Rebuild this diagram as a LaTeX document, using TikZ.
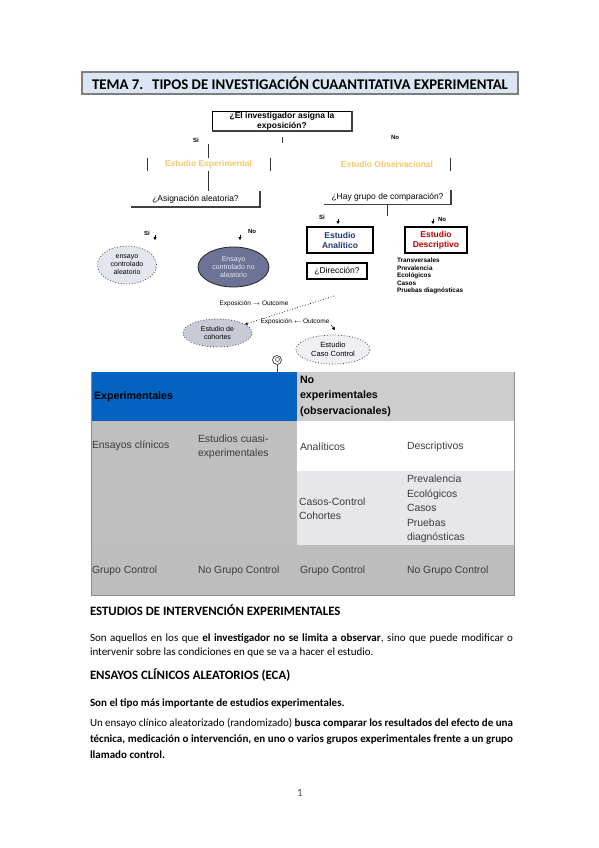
\documentclass[tikz,border=0pt]{standalone}
\usepackage{fontspec}
\setmainfont{Carlito}
\newfontfamily\arialf{Liberation Sans}
\usetikzlibrary{arrows.meta,shapes.geometric}
\definecolor{titlebg}{RGB}{220,230,242}
\definecolor{titlebd}{RGB}{125,125,125}
\definecolor{yel}{RGB}{246,201,102}
\definecolor{anablue}{RGB}{31,56,120}
\definecolor{descred}{RGB}{192,0,0}
\definecolor{ellA}{RGB}{228,230,238}
\definecolor{ellB}{RGB}{108,115,150}
\definecolor{ellC}{RGB}{200,203,214}
\definecolor{ellD}{RGB}{240,240,244}
\definecolor{tblue}{RGB}{4,99,192}
\definecolor{tgrayA}{RGB}{205,205,205}
\definecolor{tgrayB}{RGB}{191,191,191}
\definecolor{tgrayC}{RGB}{231,231,235}
\definecolor{tgrayD}{RGB}{189,189,189}
\definecolor{ttext}{RGB}{60,60,60}
\begin{document}
\begin{tikzpicture}[x=1pt,y=-1pt,
  every node/.style={inner sep=0pt, outer sep=0pt},
  fsm/.style={font=\arialf\fontsize{8.5}{10}\selectfont, align=center},
  fsmb/.style={font=\arialf\bfseries\fontsize{8.5}{10}\selectfont, align=center},
  flab/.style={font=\arialf\bfseries\fontsize{6}{7}\selectfont},
  fline/.style={line width=1pt, draw=black!80},
  shadowln/.style={line width=1.6pt, draw=black!75},
  arrtip/.style={-{Triangle[width=3pt,length=3pt]}, line width=0.4pt},
  ell/.style={ellipse, inner sep=0pt, align=center, font=\arialf\fontsize{7}{8}\selectfont},
  tcell/.style={anchor=west, align=left, font=\arialf\fontsize{10.4}{14}\selectfont, text=ttext},
  thead/.style={anchor=west, align=left, font=\arialf\bfseries\fontsize{10.7}{15.5}\selectfont, text=black},
  btext/.style={anchor=base west, font=\fontsize{11}{13}\selectfont},
  bhead/.style={anchor=base west, font=\bfseries\fontsize{12.8}{15}\selectfont},
]
\useasboundingbox (0,0) rectangle (599,848);
\fill[white] (0,0) rectangle (599,848);

% title
\node[draw=titlebd, fill=titlebg, line width=1.5pt, minimum width=436pt, minimum height=22pt,
  font=\bfseries\fontsize{14.8}{16}\selectfont] (title) at (300,83)
  {TEMA 7.\hspace{0.6em}TIPOS DE INVESTIGACIÓN CUAANTITATIVA EXPERIMENTAL};

% flowchart
\node[fsmb, draw, line width=0.8pt, minimum width=140pt, minimum height=20pt] (q1) at (282,121)
  {¿El investigador asigna la\\exposición?};
\draw[shadowln] (q1.south west) -- (q1.south east) -- (q1.north east);

\node[flab] (siA) at (196,140) {Sí};
\node[flab] (noA) at (395,137) {No};
\coordinate (tk1) at (282,137);
\coordinate (tk2) at (282,143);
\draw[fline] (tk1) -- (tk2);

\node[fsmb, text=yel, minimum width=123pt, minimum height=13pt] (exp) at (208.5,164) {Estudio Experimental};
\draw[fline] (exp.north west) -- (exp.south west);
\draw[fline] (exp.north east) -- (exp.south east);
\coordinate (e0) at (208,144);
\draw[fline] (e0) -- (e0 |- exp.north);

\node[fsm, minimum width=129pt, minimum height=16pt] (asig) at (195.5,199) {¿Asignación aleatoria?};
\draw[shadowln] (asig.south west) -- (asig.south east) -- (asig.north east);
\draw[fline] (e0 |- exp.south) -- (e0 |- asig.north);

\node[fsmb, text=yel, minimum width=126pt, minimum height=13pt] (obs) at (387,164) {Estudio Observacional};
\draw[fline] (obs.north east) -- (obs.south east);

\node[fsm, minimum width=127pt, minimum height=15pt] (hay) at (387.5,197) {¿Hay grupo de comparación?};
\draw[shadowln] (hay.south west) -- (hay.south east) -- (hay.north east);
\coordinate (h1) at (387.5,216);
\draw[fline] (hay.south) -- (h1);

\node[flab] (siB) at (147,233) {Sí};
\coordinate (ta1) at (155,235); \coordinate (tb1) at (155,240);
\draw[arrtip] (ta1) -- (tb1);
\node[flab] (noB) at (252,231) {No};
\coordinate (ta2) at (240,235); \coordinate (tb2) at (240,240);
\draw[arrtip] (ta2) -- (tb2);
\node[flab] (siC) at (322,217) {Sí};
\coordinate (ta3) at (338,219); \coordinate (tb3) at (338,224);
\draw[arrtip] (ta3) -- (tb3);
\node[flab] (noC) at (442,219) {No};
\coordinate (ta4) at (433,219); \coordinate (tb4) at (433,224);
\draw[arrtip] (ta4) -- (tb4);

\node[ell, fill=ellA, draw=black!75, dotted, line width=0.8pt, minimum width=59pt, minimum height=38pt] (eca) at (127,265)
  {ensayo\\controlado\\aleatorio};
\node[ell, fill=ellB, draw=black!85, line width=0.8pt, minimum width=71pt, minimum height=40pt, text=white!85!ellB] (ecna) at (233.5,267)
  {Ensayo\\controlado no\\aleatorio};

\node[fsmb, text=anablue, draw=black, line width=1.6pt, fill=white, minimum width=66pt, minimum height=26pt] (ana) at (340,240)
  {Estudio\\Analítico};
\node[fsmb, text=descred, draw=black, line width=1.6pt, fill=white, minimum width=62pt, minimum height=26pt] (desc) at (436,240)
  {Estudio\\Descriptivo};
\node[fsm, draw=black, line width=1.8pt, minimum width=60pt, minimum height=16pt] (dir) at (337,271) {¿Dirección?};

\node[anchor=north west, align=left, font=\arialf\bfseries\fontsize{6.4}{7.5}\selectfont] (lst) at (397,258)
  {Transversales\\Prevalencia\\Ecológicos\\Casos\\Pruebas diagnósticas};

\node[font=\arialf\fontsize{6.5}{7}\selectfont] (ex1) at (254,304) {Exposición $\rightarrow$ Outcome};

\node[ell, fill=ellC, draw=black!75, dotted, line width=0.8pt, minimum width=69pt, minimum height=28pt] (coh) at (217.5,333)
  {Estudio de\\cohortes};
\coordinate (d1) at (334,296);
\draw[dotted, line width=0.7pt, -{Latex[length=3pt,width=3pt]}] (d1) -- (coh);

\node[font=\arialf\fontsize{6.5}{7}\selectfont] (ex2) at (295,322) {Exposición $\leftarrow$ Outcome};
\node[ell, fill=ellD, draw=black!75, dotted, line width=0.8pt, minimum width=74pt, minimum height=29pt,
  font=\arialf\fontsize{7.5}{8.5}\selectfont] (cc) at (333,349.5) {Estudio\\Caso Control};
\coordinate (c1) at (331,325); \coordinate (c2) at (335,330);
\draw[arrtip] (c1) -- (c2);

% icon
\node[circle, draw=black!70, line width=0.8pt, minimum size=9pt] (ico) at (277,360) {};
\node[circle, draw=black!70, line width=0.6pt, minimum size=4pt] (icoin) at (277.5,359.5) {};
\coordinate (icb) at (277,372);
\draw[line width=0.8pt, black!70] (ico.south) -- (icb);

% table
\fill[tblue] (91,372) rectangle (297,421);
\fill[tgrayA] (297,372) rectangle (514,421);
\fill[tgrayB] (91,421) rectangle (297,545);
\fill[white] (297,421) rectangle (514,471);
\fill[tgrayC] (297,471) rectangle (514,545);
\fill[tgrayD] (91,545) rectangle (514,595);
\draw[black!45, line width=0.6pt] (91,372) -- (91,595) -- (514,595) -- (514,372);

\node[thead] (th1) at (94,397) {Experimentales};
\node[thead] (th2) at (300,396) {No\\experimentales\\(observacionales)};
\node[tcell] (c11) at (92,446) {Ensayos clínicos};
\node[tcell] (c12) at (198,447) {Estudios cuasi-\\experimentales};
\node[tcell] (c13) at (300,447) {Analíticos};
\node[tcell] (c14) at (407,447) {Descriptivos};
\node[tcell] (c23) at (299,509) {Casos-Control\\Cohortes};
\node[tcell, font=\arialf\fontsize{10.4}{14.4}\selectfont] (c24) at (407,509) {Prevalencia\\Ecológicos\\Casos\\Pruebas\\diagnósticas};
\node[tcell] (c31) at (92,571) {Grupo Control};
\node[tcell] (c32) at (198,571) {No Grupo Control};
\node[tcell] (c33) at (300,571) {Grupo Control};
\node[tcell] (c34) at (407,571) {No Grupo Control};

% body text
\node[bhead] (h1t) at (90,615) {ESTUDIOS DE INTERVENCIÓN EXPERIMENTALES};
\node[btext] (p1a) at (90,641) {\makebox[423pt][s]{Son aquellos en los que \textbf{el investigador no se limita a observar}, sino que puede modificar o}};
\node[btext] (p1b) at (90,655) {intervenir sobre las condiciones en que se va a hacer el estudio.};
\node[bhead] (h2t) at (90,679) {ENSAYOS CLÍNICOS ALEATORIOS (ECA)};
\node[btext] (p2) at (90,706) {\textbf{Son el tipo más importante de estudios experimentales.}};
\node[btext] (p3a) at (90,726) {\makebox[423pt][s]{Un ensayo clínico aleatorizado (randomizado) \textbf{busca comparar los resultados del efecto de una}}};
\node[btext] (p3b) at (90,742) {\makebox[423pt][s]{\textbf{técnica, medicación o intervención, en uno o varios grupos experimentales frente a un grupo}}};
\node[btext] (p3c) at (90,758) {\textbf{llamado control.}};
\node[font=\fontsize{11}{13}\selectfont, text=black!70] (pg) at (300,793) {1};
\end{tikzpicture}
\end{document}
